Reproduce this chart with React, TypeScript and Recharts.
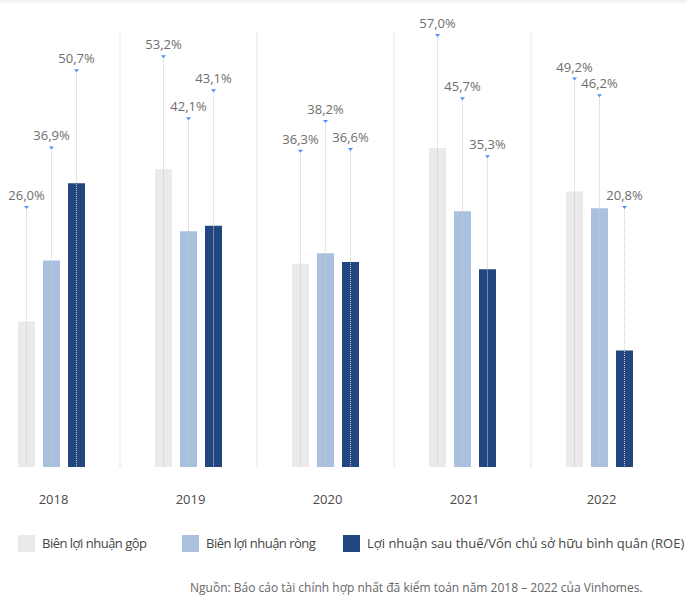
import { BarChart, Bar, XAxis, YAxis, CartesianGrid } from "recharts";

const years = ["2018", "2019", "2020", "2021", "2022"];
const grossMargin = [26.0, 53.2, 36.3, 57.0, 49.2];
const netMargin = [36.9, 42.1, 38.2, 45.7, 46.2];
const roe = [50.7, 43.1, 36.6, 35.3, 20.8];

const seriesNames = [
  "Biên lợi nhuận gộp",
  "Biên lợi nhuận ròng",
  "Lợi nhuận sau thuế/Vốn chủ sở hữu bình quân (ROE)",
];
const source =
  "Nguồn: Báo cáo tài chính hợp nhất đã kiểm toán năm 2018 – 2022 của Vinhomes.";

const COLORS = ["#e9eae9", "#a9c1de", "#22467f"];
const FONT = "'Open Sans', Inter, sans-serif";
const LIFT = 114; // marker sits this far above the bar top
const MIN_RISE = 261; // markers never sit lower than this above the baseline
const CLASH = 14; // neighbours closer than this get separated
const STEP = 28;

const series = [grossMargin, netMargin, roe];

const data = years.map((y, i) => ({
  year: y,
  gross: grossMargin[i],
  net: netMargin[i],
  roe: roe[i],
}));

const fmt = (v: number) => v.toFixed(1).replace(".", ",") + "%";

// marker y for series s in group idx, pushing a label up when it collides with a neighbour
function markerY(s: number, idx: number, bottom: number, k: number) {
  const base = series.map((arr) => Math.min(bottom - arr[idx] * k - LIFT, bottom - MIN_RISE));
  const mine = base[s];
  const clashes = [s - 1, s + 1]
    .filter((n) => n >= 0 && n < series.length)
    .filter((n) => Math.abs(base[n] - mine) < CLASH && (mine < base[n] || (mine === base[n] && s > n)))
    .map((n) => base[n]);
  if (clashes.length === 0) return mine;
  return Math.min(...clashes) - STEP;
}

function renderLabel(props: any, s: number) {
  const { x, y, width, height, value, index } = props;
  const v = Number(value);
  const cx = x + width / 2;
  const bottom = y + height;
  const k = v ? height / v : 0;
  const my = markerY(s, index, bottom, k);
  return (
    <g key={`${s}-${index}`}>
      <line
        x1={cx}
        x2={cx}
        y1={my + 3}
        y2={bottom}
        stroke="#cbcbcb"
        strokeWidth={1}
        strokeDasharray="1 1"
      />
      <path d={`M${cx - 2.5},${my} L${cx + 2.5},${my} L${cx},${my + 3} Z`} fill="#4f8ff7" />
      <text
        x={cx}
        y={my - 6}
        textAnchor="middle"
        fontSize={13}
        fontFamily={FONT}
        fill="#6e6e6e"
      >
        {fmt(v)}
      </text>
    </g>
  );
}

function YearTick(props: any) {
  const { x, y, payload } = props;
  return (
    <text
      x={x + 2}
      y={y + 37}
      textAnchor="middle"
      fontSize={13}
      fontFamily={FONT}
      fill="#4a4a4a"
    >
      {payload.value}
    </text>
  );
}

export default function App() {
  return (
    <div
      style={{
        position: "absolute",
        left: 0,
        top: 0,
        width: 687,
        height: 597,
        overflow: "hidden",
        background: "#fff",
        fontFamily: FONT,
      }}
    >
      <div
        style={{
          position: "absolute",
          left: 0,
          top: 0,
          width: 687,
          height: 4,
          background: "linear-gradient(#ececec, #ffffff)",
        }}
      />
      <div style={{ position: "absolute", left: -17, top: 0 }}>
        <BarChart
          width={685}
          height={597}
          data={data}
          margin={{ top: 32, right: 0, bottom: 80, left: 0 }}
          barSize={17}
          barGap={8}
        >
          <CartesianGrid
            horizontal={false}
            stroke="#d0d0d0"
            strokeDasharray="1 1"
            verticalCoordinatesGenerator={({ offset }: any) =>
              [1, 2, 3, 4].map((i) => offset.left + (offset.width * i) / years.length)
            }
          />
          <XAxis
            dataKey="year"
            axisLine={false}
            tickLine={false}
            tickSize={0}
            tickMargin={0}
            height={50}
            tick={<YearTick />}
          />
          <YAxis hide domain={[0, 77.7]} />
          <Bar dataKey="gross" fill={COLORS[0]} isAnimationActive={false} label={(p: any) => renderLabel(p, 0)} />
          <Bar dataKey="net" fill={COLORS[1]} isAnimationActive={false} label={(p: any) => renderLabel(p, 1)} />
          <Bar dataKey="roe" fill={COLORS[2]} isAnimationActive={false} label={(p: any) => renderLabel(p, 2)} />
        </BarChart>
      </div>
      {[18, 182, 343].map((lx, i) => (
        <div key={i}>
          <div
            style={{
              position: "absolute",
              left: lx,
              top: 535,
              width: 17,
              height: 17,
              background: COLORS[i],
            }}
          />
          <div
            style={{
              position: "absolute",
              left: lx + 24,
              top: 534,
              fontSize: 13,
              lineHeight: "18px",
              color: "#454545",
              whiteSpace: "nowrap",
              letterSpacing: i < 2 ? -0.5 : 0,
            }}
          >
            {seriesNames[i]}
          </div>
        </div>
      ))}
      <div
        style={{
          position: "absolute",
          left: 190,
          top: 580,
          fontSize: 12,
          lineHeight: "16px",
          color: "#666",
          whiteSpace: "nowrap",
        }}
      >
        {source}
      </div>
    </div>
  );
}
